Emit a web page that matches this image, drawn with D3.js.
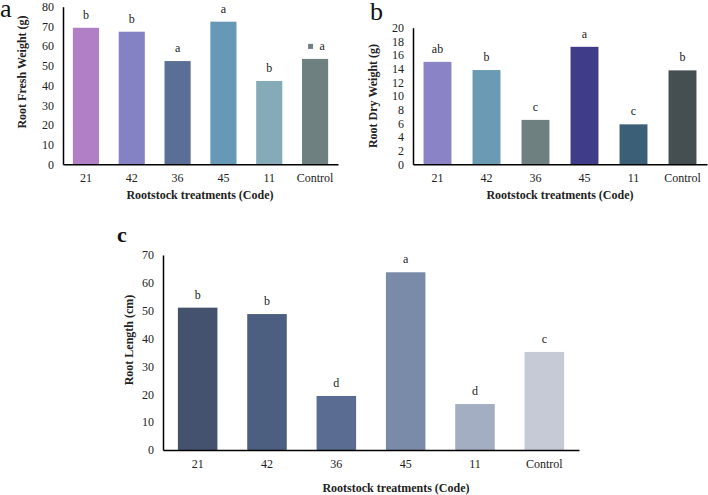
<!DOCTYPE html>
<html>
<head>
<meta charset="utf-8">
<script src="https://cdn.jsdelivr.net/npm/d3@7"></script>
<style>
  body { margin: 0; background: #fff; }
  text { font-family: "Liberation Serif", "Times New Roman", serif; }
</style>
</head>
<body>
<div id="chart"></div>
<script>
// treatment codes on every x axis
const categories = ["21", "42", "36", "45", "11", "Control"];

// panel a - root fresh weight
const freshWeight = [69.3, 67.3, 52.4, 72.4, 42.3, 53.5];
const freshLetters = ["b", "b", "a", "a", "b", "a"];
const freshTicks = [0, 10, 20, 30, 40, 50, 60, 70, 80];
const freshColors = ["#b07fc5", "#8581c5", "#5a6e96", "#6699b5", "#85abb8", "#6f8080"];

// panel b - root dry weight
const dryWeight = [15.0, 13.8, 6.5, 17.2, 5.85, 13.75];
const dryLetters = ["ab", "b", "c", "a", "c", "b"];
const dryTicks = [0, 2, 4, 6, 8, 10, 12, 14, 16, 18, 20];
const dryColors = ["#8a84c7", "#6a9ab4", "#6f8080", "#3f3c8a", "#3b5f76", "#454e50"];

// panel c - root length
const rootLength = [51.1, 48.8, 19.4, 63.8, 16.5, 35.2];
const lengthLetters = ["b", "b", "d", "a", "d", "c"];
const lengthTicks = [0, 10, 20, 30, 40, 50, 60, 70];
const lengthColors = ["#44526e", "#4d5f80", "#5a6c92", "#7a8baa", "#a4aec2", "#c5cad6"];

const svg = d3.select("#chart")
  .append("svg")
  .attr("width", 708)
  .attr("height", 495);

// draws one bar panel
function drawPanel(p) {
  const g = svg.append("g");

  // outer padding = half the inner one, so each bar sits in the middle of its slot
  const x = d3.scaleBand()
    .domain(categories)
    .range([p.left, p.right])
    .paddingInner(0.43)
    .paddingOuter(0.215);

  const y = d3.scaleLinear()
    .domain([0, p.ticks[p.ticks.length - 1]])
    .range([p.bottom, p.top]);

  // bars
  g.selectAll("rect.bar")
    .data(p.values)
    .enter().append("rect")
    .attr("class", "bar")
    .attr("x", (d, i) => x(categories[i]))
    .attr("y", d => y(d))
    .attr("width", x.bandwidth())
    .attr("height", d => p.bottom - y(d))
    .attr("fill", (d, i) => p.colors[i]);

  // significance letters
  g.selectAll("text.letter")
    .data(p.values)
    .enter().append("text")
    .attr("class", "letter")
    .attr("x", (d, i) => x(categories[i]) + x.bandwidth() / 2 + (p.shiftLast && i === 5 ? 7 : 0))
    .attr("y", d => y(d) - 9)
    .attr("text-anchor", "middle")
    .attr("font-size", 12)
    .attr("fill", "#222")
    .text((d, i) => p.letters[i]);

  // stray legend square beside the control letter (panel a)
  if (p.shiftLast) {
    g.append("rect")
      .attr("x", x("Control") + x.bandwidth() / 2 - 7)
      .attr("y", y(p.values[5]) - 15)
      .attr("width", 5)
      .attr("height", 5)
      .attr("fill", p.colors[5]);
  }

  // y axis
  const yAxis = g.append("g")
    .attr("transform", `translate(${p.left},0)`)
    .call(d3.axisLeft(y).tickValues(p.ticks).tickSize(0).tickPadding(9));
  yAxis.select(".domain").attr("stroke", "#000").attr("stroke-width", 1.5);
  yAxis.selectAll("text")
    .attr("font-size", 12)
    .attr("fill", "#222");

  // x axis
  const xAxis = g.append("g")
    .attr("transform", `translate(0,${p.bottom})`)
    .call(d3.axisBottom(x).tickSize(0).tickPadding(9));
  xAxis.select(".domain").attr("stroke", "#000").attr("stroke-width", 1.5);
  xAxis.selectAll("text")
    .attr("font-size", 12)
    .attr("fill", "#222");

  // axis titles
  g.append("text")
    .attr("x", p.xTitleX)
    .attr("y", p.xTitleY)
    .attr("text-anchor", "middle")
    .attr("font-size", 12)
    .attr("font-weight", "bold")
    .attr("fill", "#222")
    .text("Rootstock treatments (Code)");

  g.append("text")
    .attr("transform", `translate(${p.yTitleX},${p.yTitleY}) rotate(-90)`)
    .attr("text-anchor", "middle")
    .attr("font-size", 12)
    .attr("font-weight", "bold")
    .attr("fill", "#222")
    .text(p.yTitle);

  // panel letter
  g.append("text")
    .attr("x", p.tagX)
    .attr("y", p.tagY)
    .attr("font-size", p.tagSize)
    .attr("font-weight", p.tagWeight)
    .attr("fill", "#111")
    .text(p.tag);
}

drawPanel({
  values: freshWeight, letters: freshLetters, ticks: freshTicks, colors: freshColors,
  left: 63, right: 338, top: 6.7, bottom: 164.3, shiftLast: true,
  yTitle: "Root Fresh Weight (g)", yTitleX: 26, yTitleY: 72,
  xTitleX: 200, xTitleY: 199,
  tag: "a", tagX: 0, tagY: 17, tagSize: 26, tagWeight: "normal"
});

drawPanel({
  values: dryWeight, letters: dryLetters, ticks: dryTicks, colors: dryColors,
  left: 413, right: 707, top: 27.7, bottom: 164.3,
  yTitle: "Root Dry Weight (g)", yTitleX: 377, yTitleY: 96,
  xTitleX: 560, xTitleY: 199,
  tag: "b", tagX: 370, tagY: 20, tagSize: 26, tagWeight: "normal"
});

drawPanel({
  values: rootLength, letters: lengthLetters, ticks: lengthTicks, colors: lengthColors,
  left: 163, right: 579, top: 255, bottom: 450,
  yTitle: "Root Length (cm)", yTitleX: 133, yTitleY: 340,
  xTitleX: 396, xTitleY: 492,
  tag: "c", tagX: 117, tagY: 242, tagSize: 22, tagWeight: "bold"
});
</script>
</body>
</html>
